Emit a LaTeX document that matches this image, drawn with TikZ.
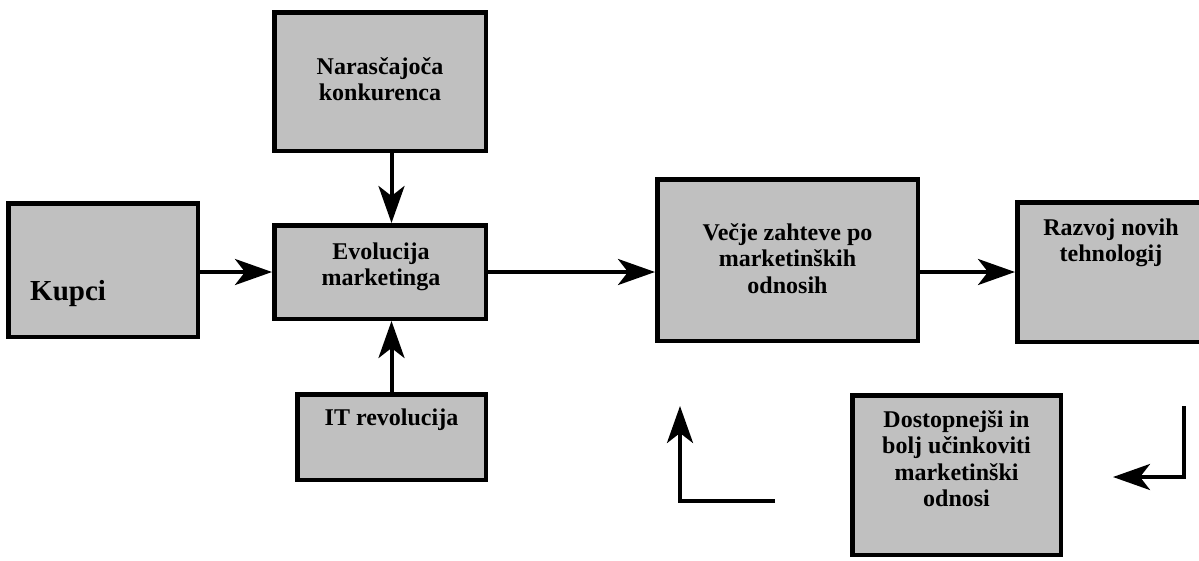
\documentclass[tikz,border=0pt]{standalone}
\usepackage{fontspec}
\setmainfont{Liberation Serif}
\usetikzlibrary{arrows.meta}
\definecolor{boxgray}{HTML}{C0C0C0}
% centred block of lines whose baseline is that of its first line
\newcommand\linestack[1]{\begin{tabular}[t]{@{}c@{}}#1\end{tabular}}
\tikzset{
  box/.style={draw=black, fill=boxgray, line width=4.5pt, inner sep=0pt},
  lbl/.style={font=\bfseries\fontsize{24}{26.5}\selectfont, anchor=base, inner sep=0pt},
  flow/.style={line width=4pt, -{Stealth[length=37pt,width=26pt,inset=10pt]}},
}
\begin{document}
\begin{tikzpicture}[x=1pt,y=-1pt]
\useasboundingbox (0,0) rectangle (1199,560);
\clip (0,0) rectangle (1199,560);

% boxes
\node[box, minimum width=189.5pt, minimum height=133.5pt] (kupci) at (103,270) {};
\node[box, minimum width=211.5pt, minimum height=138.5pt] (nar)   at (380,81.5) {};
\node[box, minimum width=211.5pt, minimum height=93.5pt]  (evo)   at (380,272) {};
\node[box, minimum width=188.5pt, minimum height=85.5pt]  (it)    at (391.5,437) {};
\node[box, minimum width=260.5pt, minimum height=161.5pt] (vec)   at (787.5,260) {};
\node[box, minimum width=187.5pt, minimum height=139.5pt] (raz)   at (1111,272) {};
\node[box, minimum width=208.5pt, minimum height=159.5pt] (dos)   at (956.5,475) {};

% labels
\node[lbl, anchor=base west, font=\bfseries\fontsize{29}{32}\selectfont] (kupciT) at (30,300) {Kupci};
\node[lbl] (narT) at (380,74)    {\linestack{Narasčajoča\\konkurenca}};
\node[lbl] (evoT) at (381,259)   {\linestack{Evolucija\\marketinga}};
\node[lbl] (itT)  at (391.5,425) {IT revolucija};
\node[lbl] (vecT) at (787.5,240) {\linestack{Večje zahteve po\\marketinških\\odnosih}};
\node[lbl] (razT) at (1111,235)  {\linestack{Razvoj novih\\tehnologij}};
\node[lbl] (dosT) at (956.5,427) {\linestack{Dostopnejši in\\bolj učinkoviti\\marketinški\\odnosi}};

% connectors between boxes
\draw[flow] (kupci.east |- evo.west) -- (evo.west);
\draw[flow] (nar.south -| it.north) -- (evo.north -| it.north);
\draw[flow] (it.north) -- (it.north |- evo.south);
\draw[flow] (evo.east) -- (evo.east -| vec.west);
\draw[flow] (vec.east |- raz.west) -- (raz.west);

% free-standing bent arrows
\coordinate (upEnd)    at (775,501);
\coordinate (upCorner) at (680,501);
\coordinate (upTip)    at (680,406);
\draw[flow] (upEnd) -- (upCorner) -- (upTip);

\coordinate (leftStart)  at (1184,406);
\coordinate (leftCorner) at (1184,477);
\coordinate (leftTip)    at (1113,477);
\draw[flow] (leftStart) -- (leftCorner) -- (leftTip);
\end{tikzpicture}
\end{document}
